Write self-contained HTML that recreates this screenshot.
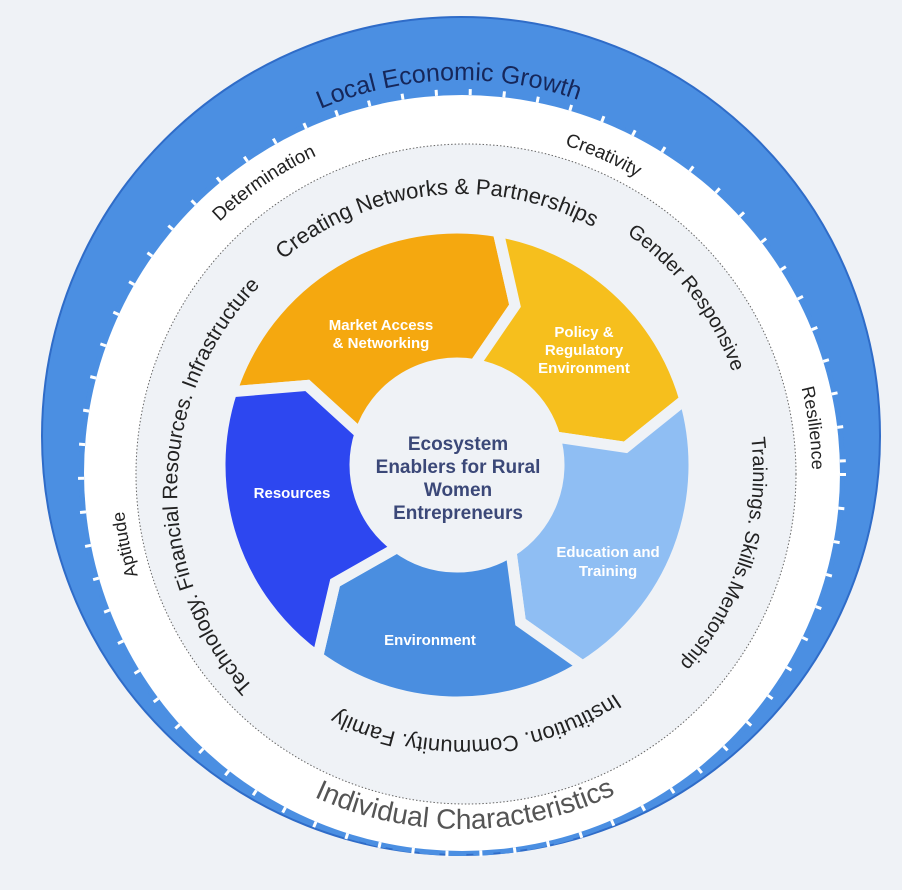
<!DOCTYPE html>
<html><head><meta charset="utf-8">
<style>
html,body{margin:0;padding:0;background:#eff2f6;}
svg{display:block;}
text{font-family:"Liberation Sans",sans-serif;}
</style></head>
<body>
<svg id="s" width="902" height="890" viewBox="0 0 902 890" xmlns="http://www.w3.org/2000/svg" xmlns:xlink="http://www.w3.org/1999/xlink">
<defs>
<path id="t1" d="M105.2 448.4 A356 356 0 0 1 816.8 423.6"/>
<path id="t2" d="M106.0 476.1 A356 356 0 0 0 818.0 469.9"/>
<path id="t3" d="M173.7 669.7 A349 349 0 0 1 750.3 276.3"/>
<path id="t4" d="M144.1 331.5 A348 348 0 0 1 779.9 614.5"/>
<path id="t5" d="M417.5 125.8 A350 350 0 0 1 506.5 820.2"/>
<path id="t6" d="M532.7 805.6 A340 340 0 0 1 391.3 140.4"/>
<path id="t7" d="M187.5 498.8 A276 276 0 0 1 736.5 441.2"/>
<path id="t8" d="M286.1 240.7 A289 289 0 0 1 637.9 699.3"/>
<path id="t9" d="M550.0 192.6 A291 291 0 0 1 374.0 747.4"/>
<path id="t10" d="M736.5 454.2 A275 275 0 0 1 187.5 485.8"/>
<path id="t11" d="M464.9 783.0 A293 293 0 0 1 475.1 197.0"/>
</defs>
<rect width="902" height="890" fill="#eff2f6"/>
<circle cx="461" cy="436" r="419" fill="#4b8fe2" stroke="#2f6cc8" stroke-width="2"/>
<circle cx="462" cy="473" r="378" fill="#ffffff"/>
<circle cx="462" cy="473" r="381" fill="none" stroke="#4b8fe2" stroke-width="4" stroke-dasharray="20 7"/>
<circle cx="462" cy="473" r="381" fill="none" stroke="#ffffff" stroke-width="6" stroke-dasharray="3 31"/>
<circle cx="466" cy="474" r="330" fill="#eff2f6" stroke="#666" stroke-width="1" stroke-dasharray="1.5 2"/>
<g id="segs"></g>
<g text-anchor="middle">
<text font-size="25" fill="#16275a"><textPath href="#t1" xlink:href="#t1" startOffset="50%">Local  Economic Growth</textPath></text>
<text font-size="28" fill="#555555"><textPath href="#t2" xlink:href="#t2" startOffset="50%">Individual Characteristics</textPath></text>
<text font-size="19" fill="#222"><textPath href="#t3" xlink:href="#t3" startOffset="50%">Determination</textPath></text>
<text font-size="19" fill="#222"><textPath href="#t4" xlink:href="#t4" startOffset="50%">Creativity</textPath></text>
<text font-size="18" fill="#222"><textPath href="#t5" xlink:href="#t5" startOffset="50%">Resilience</textPath></text>
<text font-size="18" fill="#222"><textPath href="#t6" xlink:href="#t6" startOffset="50%">Aptitude</textPath></text>
<text font-size="22" fill="#222"><textPath href="#t7" xlink:href="#t7" startOffset="50%">Creating Networks &amp;  Partnerships</textPath></text>
<text font-size="20" fill="#222"><textPath href="#t8" xlink:href="#t8" startOffset="50%">Gender Responsive</textPath></text>
<text font-size="20" fill="#222"><textPath href="#t9" xlink:href="#t9" startOffset="50%">Trainings. Skills.Mentorship</textPath></text>
<text font-size="22" fill="#222"><textPath href="#t10" xlink:href="#t10" startOffset="50%">Institution. Community. Family</textPath></text>
<text font-size="21" fill="#222"><textPath href="#t11" xlink:href="#t11" startOffset="50%">Technology. Financial Resources. Infrastructure</textPath></text>
</g>
<g font-weight="bold" fill="#ffffff" font-size="15" text-anchor="middle">
<text x="381" y="330">Market Access</text>
<text x="381" y="348">&amp; Networking</text>
<text x="584" y="337">Policy &amp;</text>
<text x="584" y="355">Regulatory</text>
<text x="584" y="373">Environment</text>
<text x="292" y="498">Resources</text>
<text x="608" y="557">Education and</text>
<text x="608" y="576">Training</text>
<text x="430" y="645">Environment</text>
</g>
<g font-weight="bold" fill="#3b4878" font-size="19" text-anchor="middle">
<text x="458" y="450">Ecosystem</text>
<text x="458" y="473">Enablers for Rural</text>
<text x="458" y="496">Women</text>
<text x="458" y="519">Entrepreneurs</text>
</g>
</svg>
<script>
(function(){
var NS="http://www.w3.org/2000/svg";
function P(cx,cy,a,r){var t=a*Math.PI/180;return (cx+r*Math.cos(t)).toFixed(2)+" "+(cy+r*Math.sin(t)).toFixed(2);}
var C=[457,465],R=237,r=102,rm=(R+r)/2,tip=10;
var segs=[[198,280,"#f5a80f"],[280,344,"#f6bf1d"],[344,418,"#8fbef3"],[418,486,"#4a8ee0"],[486,558,"#2d47f0"]];
var g=document.getElementById("segs");
segs.forEach(function(s){
 var a0=s[0],a1=s[1];
 var d="M "+P(C[0],C[1],a0,R)+" A "+R+" "+R+" 0 0 1 "+P(C[0],C[1],a1,R)+
  " L "+P(C[0],C[1],a1+tip,rm)+" L "+P(C[0],C[1],a1,r)+
  " A "+r+" "+r+" 0 0 0 "+P(C[0],C[1],a0,r)+" L "+P(C[0],C[1],a0+tip,rm)+" Z";
 var p=document.createElementNS(NS,"path");
 p.setAttribute("d",d);p.setAttribute("fill",s[2]);
 p.setAttribute("stroke","#eff2f6");p.setAttribute("stroke-width","11");
 p.setAttribute("stroke-linejoin","miter");
 g.appendChild(p);
});
})();
</script>
</body></html>
